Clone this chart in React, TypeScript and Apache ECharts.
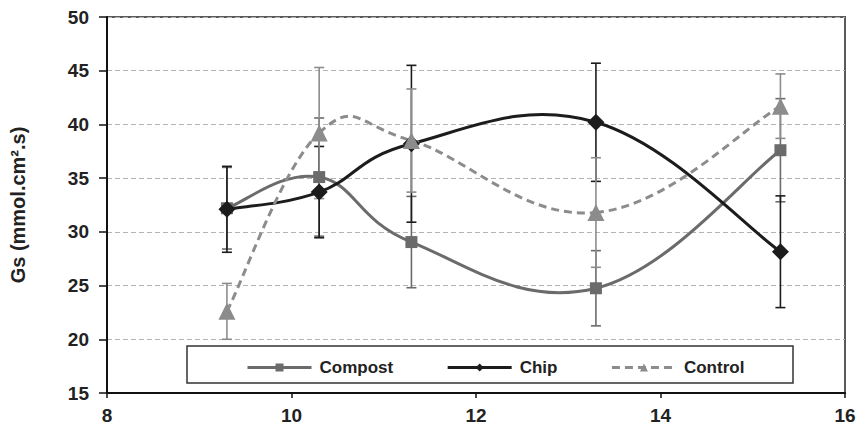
import React, { useEffect, useRef } from "react";
import * as echarts from "echarts";

const xs = [9.3, 10.3, 11.3, 13.3, 15.3];
const compost = [32.2, 35.1, 29.05, 24.75, 37.6];
const compostErr = [3.8, 5.5, 4.25, 3.5, 4.8];
const chip = [32.1, 33.7, 38.2, 40.2, 28.15];
const chipErr = [4.0, 4.25, 7.3, 5.5, 5.2];
const control = [22.6, 39.2, 38.5, 31.8, 41.7];
const controlErr = [2.6, 6.1, 4.8, 5.1, 3.0];
const seriesNames = ["Compost", "Chip", "Control"];

const FONT = "Liberation Sans, Arial, sans-serif";
const C_COMPOST = "#6b6b6b";
const C_CHIP = "#1c1c1c";
const C_CONTROL = "#8c8c8c";
const DASH = [8, 5];

function errSeries(name: string, vals: number[], errs: number[], color: string) {
  return {
    type: "custom",
    name: name + " err",
    z: 1,
    silent: true,
    data: xs.map((x, i) => [x, vals[i], errs[i]]),
    renderItem: (params: any, api: any) => {
      const x = api.value(0);
      const y = api.value(1);
      const e = api.value(2);
      const top = api.coord([x, y + e]);
      const bot = api.coord([x, y - e]);
      const hw = 5;
      const style = { stroke: color, lineWidth: 1.6 };
      return {
        type: "group",
        children: [
          { type: "line", shape: { x1: top[0], y1: top[1], x2: bot[0], y2: bot[1] }, style },
          { type: "line", shape: { x1: top[0] - hw, y1: top[1], x2: top[0] + hw, y2: top[1] }, style },
          { type: "line", shape: { x1: bot[0] - hw, y1: bot[1], x2: bot[0] + hw, y2: bot[1] }, style },
        ],
      };
    },
  };
}

function curveSeries(name: string, vals: number[], color: string, dash: number[] | null) {
  const f = 0.2;
  return {
    type: "custom",
    name: name + " curve",
    z: 2,
    silent: true,
    data: xs.slice(0, -1).map((x, i) => [x, vals[i], i]),
    renderItem: (params: any, api: any) => {
      const i = api.value(2);
      const n = xs.length;
      const p = (k: number) => {
        const kk = Math.max(0, Math.min(n - 1, k));
        return api.coord([xs[kk], vals[kk]]);
      };
      const p0 = p(i - 1);
      const p1 = p(i);
      const p2 = p(i + 1);
      const p3 = p(i + 2);
      const cp1 = [p1[0] + (p2[0] - p0[0]) * f, p1[1] + (p2[1] - p0[1]) * f];
      const cp2 = [p2[0] - (p3[0] - p1[0]) * f, p2[1] - (p3[1] - p1[1]) * f];
      return {
        type: "bezierCurve",
        shape: {
          x1: p1[0], y1: p1[1],
          x2: p2[0], y2: p2[1],
          cpx1: cp1[0], cpy1: cp1[1],
          cpx2: cp2[0], cpy2: cp2[1],
        },
        style: { stroke: color, lineWidth: 3, fill: "none", lineDash: dash || undefined },
      };
    },
  };
}

function markerSeries(name: string, vals: number[], color: string, symbol: string, size: number) {
  return {
    type: "line",
    name,
    z: 3,
    data: xs.map((x, i) => [x, vals[i]]),
    symbol,
    symbolSize: size,
    itemStyle: { color },
    lineStyle: { color, width: 0, opacity: 0 },
  };
}

export default function App() {
  const ref = useRef<HTMLDivElement>(null);
  useEffect(() => {
    if (!ref.current) return;
    const chart = echarts.init(ref.current, null, { renderer: "svg" });
    chart.setOption({
      animation: false,
      textStyle: { fontFamily: FONT },
      grid: {
        left: 106,
        right: 14,
        top: 17,
        bottom: 34,
        show: true,
        borderColor: "#5a5a5a",
        borderWidth: 2,
      },
      xAxis: {
        type: "value",
        min: 8,
        max: 16,
        interval: 2,
        axisLine: { show: true, onZero: false, lineStyle: { color: "#111", width: 2 } },
        axisTick: { show: true, length: 5, lineStyle: { color: "#111", width: 1.5 } },
        axisLabel: { margin: 13, fontSize: 19, fontWeight: "bold", color: "#222", fontFamily: FONT },
        splitLine: { show: false },
      },
      yAxis: {
        type: "value",
        min: 15,
        max: 50,
        interval: 5,
        name: "Gs (mmol.cm².s)",
        nameLocation: "middle",
        nameGap: 79,
        nameTextStyle: { fontSize: 20, fontWeight: "bold", color: "#222", fontFamily: FONT },
        axisLine: { show: true, onZero: false, lineStyle: { color: "#111", width: 2 } },
        axisTick: { show: true, length: 8, lineStyle: { color: "#111", width: 1.5 } },
        axisLabel: { margin: 18, fontSize: 19, fontWeight: "bold", color: "#222", fontFamily: FONT },
        splitLine: { show: true, lineStyle: { color: "#b4b4b4", type: [5, 3], width: 1 } },
      },
      legend: {
        data: [
          { name: seriesNames[0], lineStyle: { color: C_COMPOST, width: 3, opacity: 1, type: "solid" } },
          { name: seriesNames[1], lineStyle: { color: C_CHIP, width: 3, opacity: 1, type: "solid" } },
          { name: seriesNames[2], lineStyle: { color: C_CONTROL, width: 3, opacity: 1, type: DASH } },
        ],
        left: 246,
        top: 359,
        padding: 0,
        itemWidth: 64,
        itemHeight: 10,
        itemGap: 53,
        z: 10,
        textStyle: { fontSize: 17, fontWeight: "bold", color: "#222", fontFamily: FONT, padding: [0, 0, 0, 3] },
      },
      graphic: {
        elements: [
          {
            type: "rect",
            z: 3,
            shape: { x: 187, y: 346, width: 606, height: 37 },
            style: { fill: "#fff", stroke: "#333", lineWidth: 1.5 },
          },
        ],
      },
      series: [
        errSeries("Compost", compost, compostErr, C_COMPOST),
        errSeries("Chip", chip, chipErr, C_CHIP),
        errSeries("Control", control, controlErr, C_CONTROL),
        curveSeries("Compost", compost, C_COMPOST, null),
        curveSeries("Chip", chip, C_CHIP, null),
        curveSeries("Control", control, C_CONTROL, DASH),
        markerSeries("Compost", compost, C_COMPOST, "rect", 12),
        markerSeries("Chip", chip, C_CHIP, "diamond", 17),
        markerSeries("Control", control, C_CONTROL, "triangle", 17),
      ],
    });
    return () => chart.dispose();
  }, []);
  return (
    <div
      ref={ref}
      style={{ position: "fixed", left: 0, top: 0, width: 859, height: 427, background: "#fff" }}
    />
  );
}
